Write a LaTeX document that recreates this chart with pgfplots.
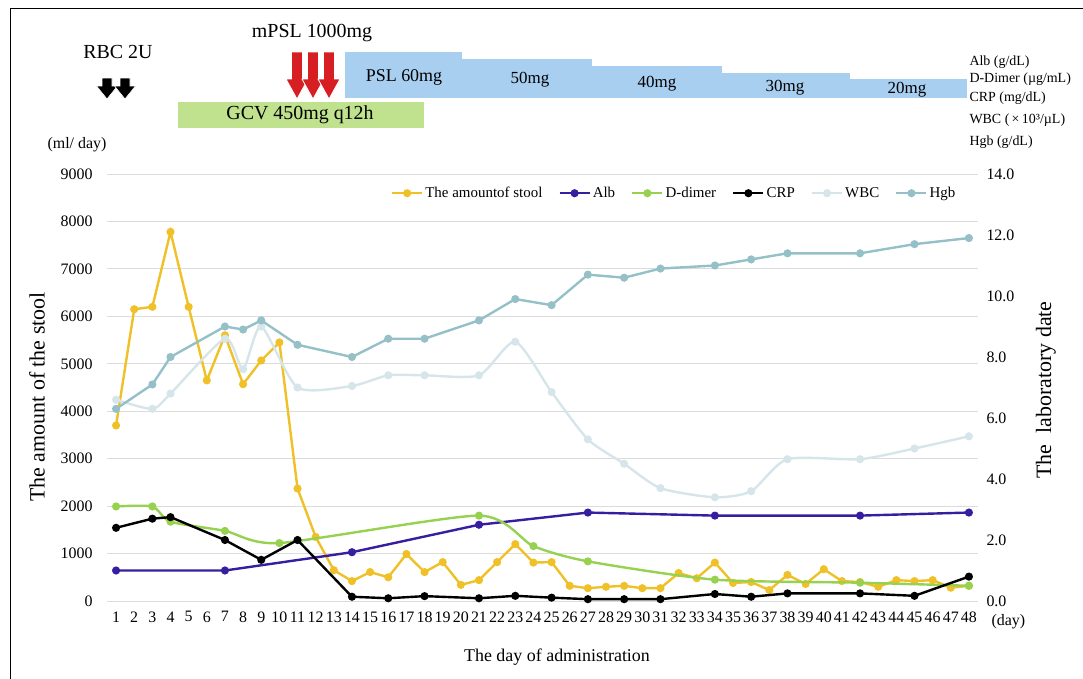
\documentclass[border=0pt]{standalone}
\usepackage{fontspec}
\setmainfont{Liberation Serif}
\usepackage{pgfplots}
\pgfplotsset{compat=1.18}
\definecolor{stoolc}{RGB}{240,192,40}
\definecolor{albc}{RGB}{55,30,160}
\definecolor{ddc}{RGB}{150,210,80}
\definecolor{wbcc}{RGB}{214,229,234}
\definecolor{hgbc}{RGB}{150,192,200}
\definecolor{pslc}{RGB}{168,206,240}
\definecolor{gcvc}{RGB}{192,226,142}
\definecolor{redc}{RGB}{215,30,35}
\definecolor{gridc}{RGB}{220,220,220}
\newcommand{\fs}[1]{\fontsize{#1}{#1}\selectfont}
\begin{document}
\begin{tikzpicture}
\path[use as bounding box] (0,0) rectangle (1083bp,-679bp);
\pgfplotsset{
 common/.style={
  scale only axis, width=871bp, height=427bp,
  at={(107bp,-601bp)}, anchor=south west,
  xmin=0.5, xmax=48.5,
  axis line style={draw=none}, tick style={draw=none},
  /pgf/number format/assume math mode=true,
  ticklabel style={font=\fs{16}},
  every axis plot/.append style={line width=2.4bp, mark size=2.8bp},
 },
}
\begin{axis}[common,
  ymin=0, ymax=9000, ytick={0,1000,...,9000},
  ymajorgrids, grid style={gridc, line width=0.9bp},
  xtick={1,...,48},
  scaled y ticks=false,
  yticklabel style={/pgf/number format/set thousands separator={}, xshift=-11bp},
  xticklabel style={yshift=-7bp, inner xsep=0pt},
]
\addplot[stoolc, mark=*] coordinates {
(1,3700) (2,6150) (3,6200) (4,7780) (5,6200) (6,4650) (7,5600) (8,4570) (9,5070) (10,5450)
(11,2370) (12,1350) (13,650) (14,420) (15,610) (16,500) (17,990) (18,610) (19,820) (20,340)
(21,440) (22,820) (23,1200) (24,810) (25,820) (26,320) (27,270) (28,300) (29,320) (30,270)
(31,270) (32,590) (33,480) (34,810) (35,380) (36,400) (37,230) (38,550) (39,360) (40,670)
(41,420) (42,400) (43,300) (44,440) (45,420) (46,440) (47,280) (48,320)};
\end{axis}
\begin{axis}[common,
  ymin=0, ymax=14, ytick={0,2,...,14},
  axis x line=none, axis y line*=right,
  yticklabel style={/pgf/number format/.cd, fixed, fixed zerofill, precision=1, /tikz/xshift=5bp},
  legend columns=6,
  legend style={draw=none, fill=none, font=\fs{15}, at={(rel axis cs:0.98,0.955)}, anchor=east,
    /tikz/every even column/.append style={column sep=14bp}},
  legend image code/.code={\draw[mark repeat=2,mark phase=2,#1] plot coordinates {(0bp,0bp) (15bp,0bp) (30bp,0bp)};},
]
\addlegendimage{stoolc, mark=*, line width=2.4bp, mark size=2.8bp}
\addlegendentry{The amountof stool}
\addplot[albc, mark=*] coordinates {
(1,1.0) (7,1.0) (14,1.6) (21,2.5) (27,2.9) (34,2.8) (42,2.8) (48,2.9)};
\addlegendentry{Alb}
\addplot[ddc, mark=*, smooth, tension=0.4] coordinates {
(1,3.1) (3,3.1) (4,2.6) (7,2.3) (10,1.9) (21,2.8) (24,1.8) (27,1.3) (34,0.7) (42,0.6) (48,0.5)};
\addlegendentry{D-dimer}
\addplot[black, mark=*] coordinates {
(1,2.4) (3,2.7) (4,2.75) (7,2.0) (9,1.35) (11,2.0) (14,0.14) (16,0.09) (18,0.16) (21,0.09)
(23,0.17) (25,0.11) (27,0.06) (29,0.06) (31,0.06) (34,0.23) (36,0.14) (38,0.25) (42,0.25) (45,0.17) (48,0.8)};
\addlegendentry{CRP}
\addplot[wbcc, mark=*, smooth, tension=0.4] coordinates {
(1,6.6) (3,6.3) (4,6.8) (7,8.6) (8,7.6) (9,9.0) (11,7.0) (14,7.05) (16,7.4) (18,7.4) (21,7.4)
(23,8.5) (25,6.85) (27,5.3) (29,4.5) (31,3.7) (34,3.4) (36,3.6) (38,4.65) (42,4.65) (45,5.0) (48,5.4)};
\addlegendentry{WBC}
\addplot[hgbc, mark=*] coordinates {
(1,6.3) (3,7.1) (4,8.0) (7,9.0) (8,8.9) (9,9.2) (11,8.4) (14,8.0) (16,8.6) (18,8.6) (21,9.2)
(23,9.9) (25,9.7) (27,10.7) (29,10.6) (31,10.9) (34,11.0) (36,11.2) (38,11.4) (42,11.4) (45,11.7) (48,11.9)};
\addlegendentry{Hgb}
\end{axis}
\begin{scope}[x=1bp,y=-1bp]
\draw[line width=1bp] (10,679) -- (10,8) -- (1083,8);
% PSL steps
\fill[pslc] (345,52) rectangle (462,98);
\fill[pslc] (462,59) rectangle (592,98);
\fill[pslc] (592,66) rectangle (722,98);
\fill[pslc] (722,73) rectangle (850,98);
\fill[pslc] (850,79) rectangle (967,98);
\node[font=\fs{18}] at (404,77) {PSL 60mg};
\node[font=\fs{17}] at (530,80) {50mg};
\node[font=\fs{17}] at (657,84) {40mg};
\node[font=\fs{17}] at (785,88) {30mg};
\node[font=\fs{17}] at (907,90) {20mg};
% GCV
\fill[gcvc] (178,102) rectangle (424,128);
\node[font=\fs{20}] at (300,115) {GCV 450mg q12h};
% red arrows
\foreach \c in {297,313,329}{
 \filldraw[fill=redc, draw=white, line width=0.8bp] (\c-5.5,52) -- (\c+5.5,52) -- (\c+5.5,79) -- (\c+11,79) -- (\c,99) -- (\c-11,79) -- (\c-5.5,79) -- cycle;
}
\node[font=\fs{20}] at (312,33) {mPSL 1000mg};
% black arrows
\foreach \c in {107,125}{
 \filldraw[fill=black, draw=white, line width=0.6bp] (\c-5,78) -- (\c+5,78) -- (\c+5,86) -- (\c+10.5,86) -- (\c,99) -- (\c-10.5,86) -- (\c-5,86) -- cycle;
}
\node[font=\fs{20}] at (118,52) {RBC 2U};
% right unit labels
\node[font=\fs{14}, anchor=west] at (966,62) {Alb (g/dL)};
\node[font=\fs{14}, anchor=west] at (966,79) {D-Dimer (µg/mL)};
\node[font=\fs{14}, anchor=west] at (966,98) {CRP (mg/dL)};
\node[font=\fs{14}, anchor=west] at (966,120) {WBC (\,×\,10³/µL)};
\node[font=\fs{14}, anchor=west] at (966,142) {Hgb (g/dL)};
\node[font=\fs{16}] at (77,145) {(ml/ day)};
\node[font=\fs{16}, anchor=west] at (988,622) {(day)};
% axis titles
\node[font=\fs{22}, rotate=90] at (37,397) {The amount of the stool};
\node[font=\fs{22}, rotate=90] at (1046,390) {The\ \ laboratory date};
\node[font=\fs{18}] at (557,657) {The day of administration};
\end{scope}
\end{tikzpicture}
\end{document}
